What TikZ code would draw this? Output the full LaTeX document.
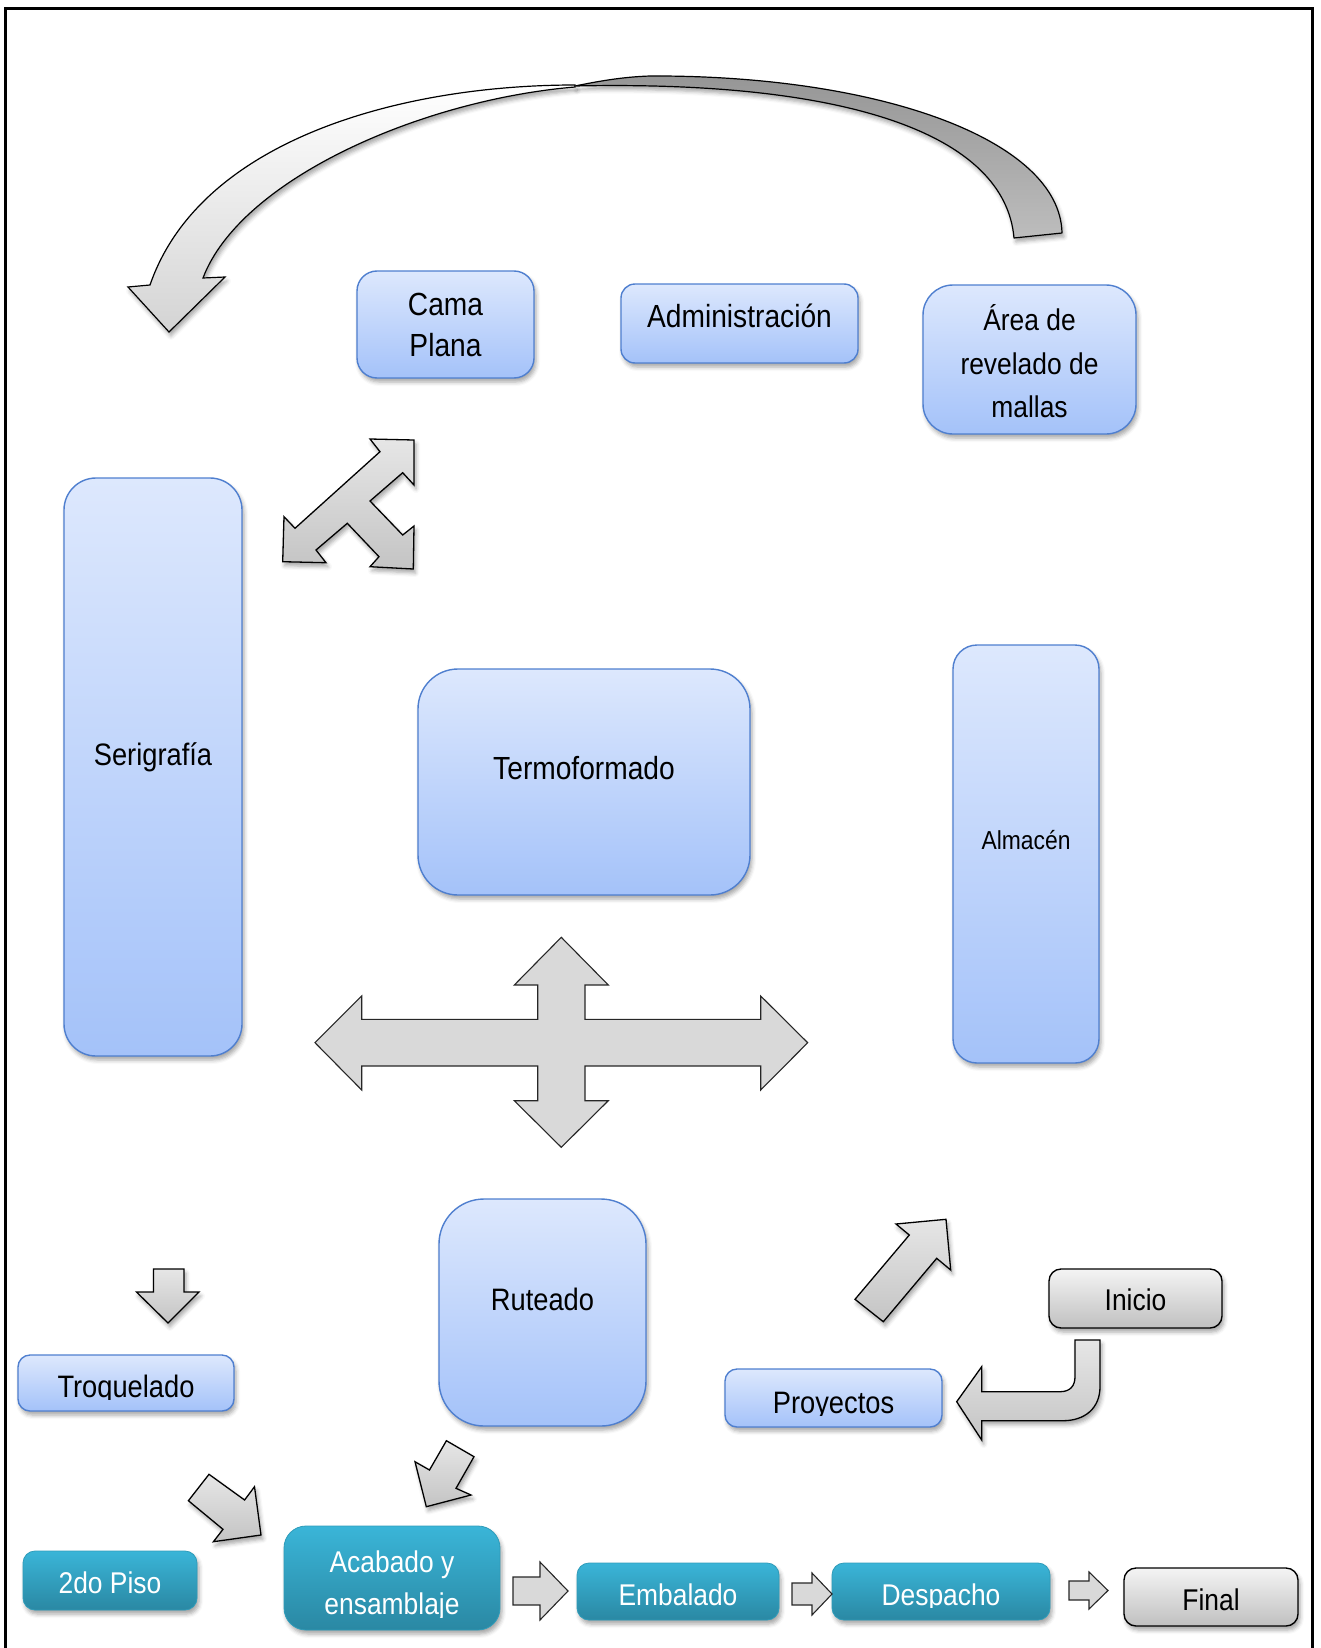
\documentclass[tikz,border=0pt]{standalone}
\usepackage{fontspec}
\setmainfont{Liberation Sans}[FakeStretch=0.88]
\usetikzlibrary{shadows.blur}

\definecolor{blueTop}{HTML}{DDE8FD}
\definecolor{blueBot}{HTML}{A4C2F9}
\definecolor{blueEdge}{HTML}{4F7FCF}
\definecolor{tealTop}{HTML}{3AB5D8}
\definecolor{tealBot}{HTML}{2A88A3}
\definecolor{tealEdge}{HTML}{2F9CBA}
\definecolor{grayTop}{HTML}{F4F4F4}
\definecolor{grayBot}{HTML}{C0C0C0}
\definecolor{crossGray}{HTML}{D9D9D9}
\definecolor{arrowTop}{HTML}{E6E6E6}
\definecolor{arrowBot}{HTML}{C4C4C4}
\definecolor{ribbonTop}{HTML}{969696}
\definecolor{ribbonBot}{HTML}{BDBDBD}

\tikzset{
  softshadow/.style={blur shadow={shadow xshift=2pt,shadow yshift=-4pt,
      shadow blur radius=4pt,shadow opacity=35}},
  panel/.style={rectangle,inner sep=0pt,softshadow},
  bluebox/.style={panel,draw=blueEdge,line width=1.4pt,top color=blueTop,bottom color=blueBot},
  tealbox/.style={panel,draw=tealEdge,line width=0.8pt,top color=tealTop,bottom color=tealBot},
  graybox/.style={panel,draw=black,line width=1.4pt,top color=grayTop,bottom color=grayBot},
  lbl/.style={anchor=base,inner sep=0pt,font=\fontsize{31}{37}\selectfont},
  wlbl/.style={lbl,text=white,font=\fontsize{30}{36}\selectfont},
  blockarrow/.style={draw=black,line width=1.3pt,line join=miter,
      top color=arrowTop,bottom color=arrowBot,softshadow},
  flatarrow/.style={draw=black!85,line width=1.1pt,line join=miter,fill=crossGray},
}

\begin{document}
\begin{tikzpicture}[x=1pt,y=-1pt]
\useasboundingbox (0,0) rectangle (1321,1648);
\clip (0,0) rectangle (1321,1648);

% outer frame, open at the bottom edge
\draw[line width=3pt] (5.5,1660) -- (5.5,8.7) -- (1312,8.7) -- (1312,1660);

% ---------- curved return arrow at the top ----------
\draw[black,line width=1.2pt,line join=round,top color=ribbonTop,bottom color=ribbonBot,softshadow]
  (1062,233) .. controls (1060,140) and (880,75) .. (650,76)
  .. controls (620,77) and (595,82) .. (575,86)
  .. controls (850,80) and (1005,135) .. (1014,238) -- cycle;
\draw[black,line width=1.2pt,line join=miter,top color=white,bottom color=black!17,softshadow]
  (575,85) .. controls (400,85) and (200,140) .. (150,285)
  -- (128,287) -- (169,332) -- (225,277) -- (203,278)
  .. controls (240,180) and (420,100) .. (575,87) -- cycle;

% ---------- upper row ----------
\node[bluebox,rounded corners=20pt,minimum width=177pt,minimum height=107pt] (cama) at (445.5,324.5) {};
\node[lbl,font=\fontsize{32}{38}\selectfont] (cama-a) at (445.5,315) {Cama};
\node[lbl,font=\fontsize{32}{38}\selectfont] (cama-b) at (445.5,356) {Plana};

\node[bluebox,rounded corners=14pt,minimum width=237pt,minimum height=79pt] (admin) at (739.5,323.5) {};
\node[lbl,font=\fontsize{32}{38}\selectfont] (admin-t) at (739.5,327.7) {Administración};

\node[bluebox,rounded corners=30pt,minimum width=213pt,minimum height=149pt] (area) at (1029.5,359.5) {};
\node[lbl,font=\fontsize{30}{36}\selectfont] (area-a) at (1029.5,330) {Área de};
\node[lbl,font=\fontsize{30}{36}\selectfont] (area-b) at (1029.5,374) {revelado de};
\node[lbl,font=\fontsize{30}{36}\selectfont] (area-c) at (1029.5,417) {mallas};

% ---------- three-way arrow under Cama Plana ----------
\path[blockarrow]
  (414,440) -- (414,485) -- (402.7,472.7) -- (370,501) -- (402.7,535)
  -- (414,526) -- (413.3,569) -- (370,566.7) -- (379,556.7) -- (347.3,523.3)
  -- (316,550) -- (326,562.7) -- (282.7,561.7) -- (284,516.7) -- (295,528.3)
  -- (380,451.7) -- (370,439) -- cycle;

% ---------- middle blocks ----------
\node[bluebox,rounded corners=32pt,minimum width=178pt,minimum height=578pt] (serig) at (153,767) {};
\node[lbl] (serig-t) at (153,765) {Serigrafía};

\node[bluebox,rounded corners=40pt,minimum width=332pt,minimum height=226pt] (termo) at (584,782) {};
\node[lbl,font=\fontsize{32}{38}\selectfont] (termo-t) at (584,779) {Termoformado};

\node[bluebox,rounded corners=24pt,minimum width=146pt,minimum height=418pt] (almacen) at (1026,854) {};
\node[lbl,font=\fontsize{26}{31}\selectfont] (almacen-t) at (1026,849) {Almacén};

% four-way cross
\path[flatarrow]
  (315,1042.7) -- (361.7,996) -- (361.7,1019.3) -- (537.7,1019.3) -- (537.7,985)
  -- (514.3,985) -- (561.3,937.3) -- (608.3,985) -- (585,985) -- (585,1019.3)
  -- (760.7,1019.3) -- (760.7,996) -- (807.7,1042.7) -- (760.7,1090) -- (760.7,1066)
  -- (585,1066) -- (585,1100.7) -- (608.3,1100.7) -- (561.3,1147.3) -- (514.3,1100.7)
  -- (537.7,1100.7) -- (537.7,1066) -- (361.7,1066) -- (361.7,1090) -- cycle;

% ---------- lower blocks ----------
\node[bluebox,rounded corners=45pt,minimum width=207pt,minimum height=227pt] (ruteado) at (542.5,1312.5) {};
\node[lbl] (ruteado-t) at (542.5,1310) {Ruteado};

\node[graybox,rounded corners=12pt,minimum width=173pt,minimum height=59pt] (inicio) at (1135.5,1298.5) {};
\node[lbl,font=\fontsize{30}{36}\selectfont] (inicio-t) at (1135.5,1310) {Inicio};

\node[bluebox,rounded corners=12pt,minimum width=216pt,minimum height=56pt] (troq) at (126,1383) {};
\begin{scope}
  \clip (18,1355) rectangle (234,1399);
  \node[lbl] (troq-t) at (126,1397) {Troquelado};
\end{scope}

\node[bluebox,rounded corners=12pt,minimum width=217pt,minimum height=58pt] (proy) at (833.5,1398) {};
\begin{scope}
  \clip (725,1369) rectangle (942,1415);
  \node[lbl] (proy-t) at (833.5,1413) {Proyectos};
\end{scope}

% down arrow above Troquelado
\path[blockarrow]
  (153.5,1269) -- (184,1269) -- (184,1292) -- (199,1292) -- (168,1323)
  -- (136.5,1292) -- (153.5,1292) -- cycle;

% arrow towards Acabado from the left
\path[blockarrow]
  (209,1474.3) -- (244.6,1500) -- (254.5,1486.7) -- (261,1535) -- (213.4,1541.7)
  -- (223,1529.3) -- (188.4,1500.7) -- cycle;

% arrow from Ruteado down to Acabado
\path[blockarrow]
  (446.4,1440.7) -- (474,1456.7) -- (456,1488.3) -- (471,1495) -- (426.3,1506.7)
  -- (415,1461.7) -- (429.5,1470) -- cycle;

% arrow rising from Proyectos
\path[blockarrow]
  (896,1224) -- (946,1219.3) -- (950.7,1270) -- (936.7,1258.3) -- (883.3,1321.7)
  -- (855,1299.3) -- (909.3,1235) -- cycle;

% U-turn arrow from Inicio to Proyectos
\path[blockarrow]
  (1075,1340) -- (1100,1340) -- (1100,1386.7)
  .. controls (1100,1408) and (1085,1420.7) .. (1063,1420.7)
  -- (981.7,1420.7) -- (981.7,1440) -- (956.7,1401.7) -- (981.7,1366.7)
  -- (981.7,1391.7) -- (1060,1391.7)
  .. controls (1070,1391.7) and (1075,1386) .. (1075,1376.7) -- cycle;

% ---------- bottom row ----------
\node[tealbox,rounded corners=12pt,minimum width=174pt,minimum height=59pt] (piso) at (110,1580.5) {};
\node[wlbl] (piso-t) at (110,1593) {2do Piso};

\node[tealbox,rounded corners=22pt,minimum width=216pt,minimum height=104pt] (acab) at (392,1578) {};
\node[wlbl] (acab-a) at (392,1572) {Acabado y};
\begin{scope}
  \clip (284,1580) rectangle (500,1617);
  \node[wlbl] (acab-b) at (392,1614) {ensamblaje};
\end{scope}

\node[tealbox,rounded corners=12pt,minimum width=202pt,minimum height=57pt] (embal) at (678,1591.5) {};
\node[wlbl] (embal-t) at (678,1605) {Embalado};

\node[tealbox,rounded corners=12pt,minimum width=218pt,minimum height=57pt] (desp) at (941,1591.5) {};
\begin{scope}
  \clip (832,1563) rectangle (1050,1607);
  \node[wlbl] (desp-t) at (941,1605) {Despacho};
\end{scope}

\node[graybox,rounded corners=12pt,minimum width=174pt,minimum height=58pt] (final) at (1211,1597) {};
\node[lbl,font=\fontsize{30}{36}\selectfont] (final-t) at (1211,1610) {Final};

% chain arrows between the bottom blocks
\path[flatarrow]
  (513,1577) -- (540,1577) -- (540,1562) -- (568,1591) -- (540,1620)
  -- (540,1605) -- (513,1605) -- cycle;
\path[flatarrow]
  (792,1583) -- (812,1583) -- (812,1573) -- (832,1594) -- (812,1615)
  -- (812,1605) -- (792,1605) -- cycle;
\path[flatarrow]
  (1069,1581) -- (1089,1581) -- (1089,1572) -- (1108,1590.5) -- (1089,1609)
  -- (1089,1600) -- (1069,1600) -- cycle;

\end{tikzpicture}
\end{document}
